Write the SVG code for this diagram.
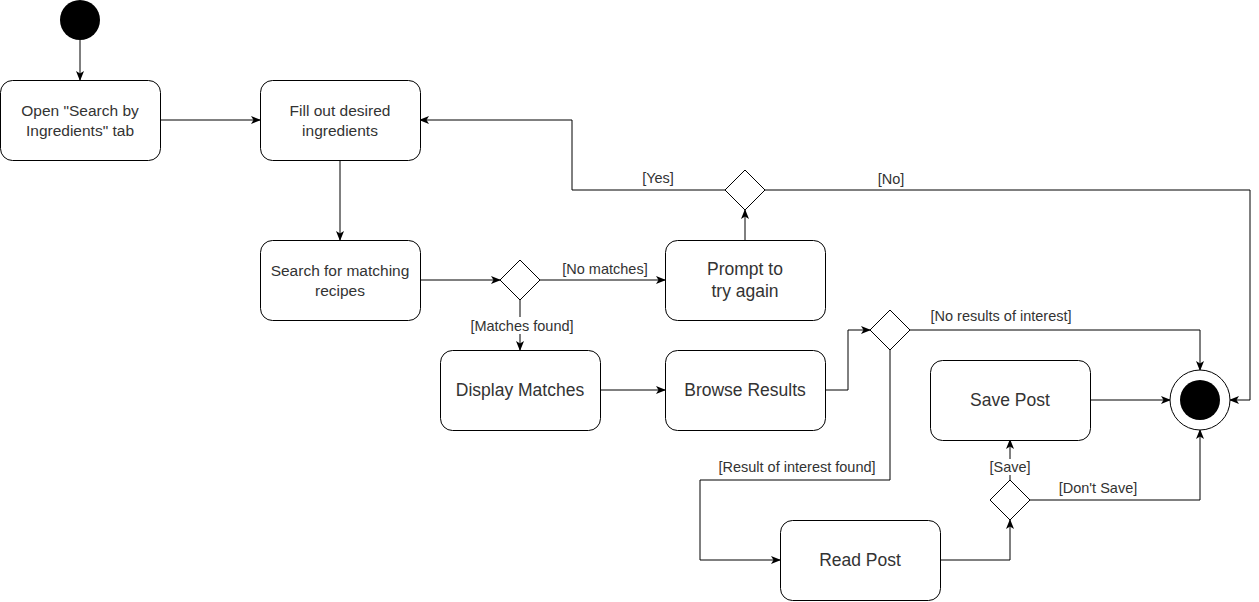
<svg xmlns="http://www.w3.org/2000/svg" width="1259" height="602" viewBox="0 0 1259 602">
<style>
.n{fill:#fff;stroke:#000;stroke-width:1}
.t{font-family:"Liberation Sans",Arial,sans-serif;fill:#333;text-anchor:middle}
.s{font-size:15.5px}
.b{font-size:17.5px}
.l{font-family:"Liberation Sans",Arial,sans-serif;font-size:14.5px;fill:#333;text-anchor:middle}
.c{fill:none;stroke:#000;stroke-width:1;marker-end:url(#a)}
</style>
<defs>
<marker id="a" viewBox="0 0 10 10" refX="9" refY="5" markerWidth="10" markerHeight="10" markerUnits="userSpaceOnUse" orient="auto">
<path d="M0,1 L10,5 L0,9 L2.5,5 Z" fill="#000"/>
</marker>
</defs>
<rect width="1259" height="602" fill="#fff"/>
<g id="connectors">
<path class="c" d="M80,40 V80"/>
<path class="c" d="M160,120 H260"/>
<path class="c" d="M340,160 V240"/>
<path class="c" d="M420,280 H500"/>
<path class="c" d="M540,280 H665"/>
<path class="c" d="M520,300 V350"/>
<path class="c" d="M745,240 V210"/>
<path class="c" d="M725,190 H572 V120 H420"/>
<path class="c" d="M765,190 H1250 V400 H1230"/>
<path class="c" d="M600,390 H665"/>
<path class="c" d="M825,390 H848 V330 H870"/>
<path class="c" d="M910,330 H1200 V370"/>
<path class="c" d="M890,350 V480 H700 V560 H780"/>
<path class="c" d="M940,560 H1010 V520"/>
<path class="c" d="M1010,480 V440"/>
<path class="c" d="M1030,500 H1200 V430"/>
<path class="c" d="M1090,400 H1170"/>
<text class="l" x="605" y="274">[No matches]</text>
<rect x="464" y="317" width="116" height="17" fill="#fff"/>
<text class="l" x="522" y="331">[Matches found]</text>
<text class="l" x="658" y="183">[Yes]</text>
<text class="l" x="891" y="184">[No]</text>
<text class="l" x="1001" y="321">[No results of interest]</text>
<text class="l" x="797" y="472">[Result of interest found]</text>
<rect x="986" y="459" width="48" height="16" fill="#fff"/>
<text class="l" x="1010" y="472">[Save]</text>
<text class="l" x="1098" y="493">[Don't Save]</text>
</g>
<g id="start"><circle cx="80" cy="20" r="20" fill="#000"/></g>
<g id="open"><rect class="n" x="0.5" y="80.5" width="160" height="80" rx="12"/><text class="t s" x="80" y="116">Open "Search by</text><text class="t s" x="80" y="136">Ingredients" tab</text></g>
<g id="fill"><rect class="n" x="260.5" y="80.5" width="160" height="80" rx="12"/><text class="t s" x="340" y="116">Fill out desired</text><text class="t s" x="340" y="136">ingredients</text></g>
<g id="search"><rect class="n" x="260.5" y="240.5" width="160" height="80" rx="12"/><text class="t s" x="340" y="276">Search for matching</text><text class="t s" x="340" y="296">recipes</text></g>
<g id="d1"><path class="n" d="M520,260 L540,280 L520,300 L500,280 Z"/></g>
<g id="prompt"><rect class="n" x="665.5" y="240.5" width="160" height="80" rx="12"/><text class="t b" x="745" y="275">Prompt to</text><text class="t b" x="745" y="297">try again</text></g>
<g id="d2"><path class="n" d="M745,170 L765,190 L745,210 L725,190 Z"/></g>
<g id="display"><rect class="n" x="440.5" y="350.5" width="160" height="80" rx="12"/><text class="t b" x="520" y="396">Display Matches</text></g>
<g id="browse"><rect class="n" x="665.5" y="350.5" width="160" height="80" rx="12"/><text class="t b" x="745" y="396">Browse Results</text></g>
<g id="d3"><path class="n" d="M890,310 L910,330 L890,350 L870,330 Z"/></g>
<g id="save"><rect class="n" x="930.5" y="360.5" width="160" height="80" rx="12"/><text class="t b" x="1010" y="406">Save Post</text></g>
<g id="end"><circle cx="1200" cy="400" r="30" fill="#fff" stroke="#000"/><circle cx="1200" cy="400" r="20" fill="#000"/></g>
<g id="read"><rect class="n" x="780.5" y="520.5" width="160" height="80" rx="12"/><text class="t b" x="860" y="566">Read Post</text></g>
<g id="d4"><path class="n" d="M1010,480 L1030,500 L1010,520 L990,500 Z"/></g>
</svg>
